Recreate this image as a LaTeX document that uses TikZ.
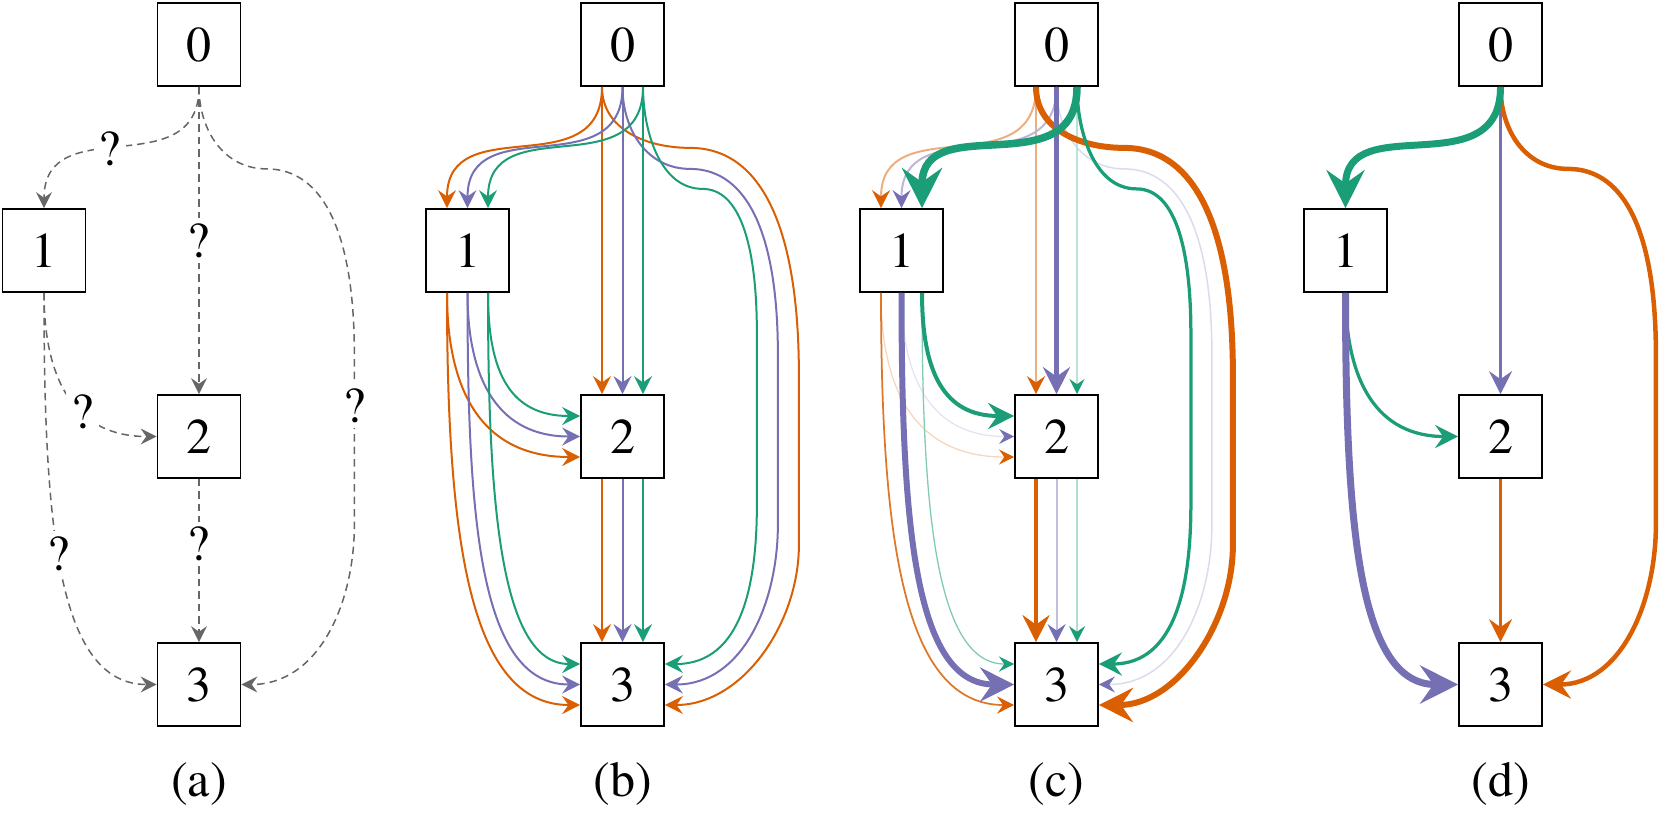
\documentclass[tikz,border=0pt]{standalone}
\usepackage{fontspec}
\setmainfont{texgyretermes}[Extension=.otf, UprightFont=*-regular]
\usetikzlibrary{arrows.meta,calc}

\definecolor{dkorange}{HTML}{D95F02}
\definecolor{dkpurple}{HTML}{7570B3}
\definecolor{dkgreen}{HTML}{1B9E77}
\definecolor{qgray}{HTML}{666666}

\begin{document}
\begin{tikzpicture}[
  x=0.2pt, y=-0.2pt,
  box/.style={draw, line width=0.35pt, minimum size=16.6pt, inner sep=0pt,
              font=\fontsize{10}{12}\selectfont},
  panel/.style={font=\fontsize{10}{12}\selectfont},
  flow/.style n args={3}{line width=#2, draw=#1!#3,
              -{Stealth[length=2pt 4, width'=0pt 1, inset'=0pt 0.35, color=#1]}},
  guess/.style={line width=0.3pt, draw=qgray, dash pattern=on 1.5pt off 1pt,
              -{Stealth[length=2pt 4, width'=0pt 1, inset'=0pt 0.35]}},
  q/.style={fill=white, inner sep=1pt, font=\fontsize{10}{12}\selectfont},
  sc/.style={to path={.. controls +(0,100) and +(0,-100) .. (\tikztotarget) \tikztonodes}},
  lt/.style 2 args={to path={.. controls +(0,#1) and +(-#2,0) .. (\tikztotarget) \tikztonodes}},
  rt/.style n args={4}{to path={.. controls +(0,43) and +(-43,0) .. ($(\tikztostart)+(#1)$)
              .. controls +(#3,0) and +(0,-#4) .. ($(\tikztotarget)+(#2,-330)$)
              -- ($(\tikztotarget)+(#2,-160)$) \tikztonodes
              .. controls +(0,78) and +(78,0) .. (\tikztotarget)}},
  rto/.style={rt={88,61}{134}{72.5}{145}},
  rtp/.style={rt={67.5,82}{113}{58}{119}},
  rtg/.style={rt={59.5,102}{92}{36}{93}},
]
\useasboundingbox (0,0) rectangle (1661,829);

% ===== (a) unknown edges =====
\node[box] (a0) at (199,44.5) {0};
\node[box] (a1) at (44,250.5) {1};
\node[box] (a2) at (199,436.5) {2};
\node[box] (a3) at (199,684.5) {3};
\node[panel] (capa) at (199,783.5) {(a)};

\draw[guess, sc] (a0.south) to node[q, pos=0.55] {?} (a1.north);
\draw[guess] (a0.south) -- node[q] {?} (a2.north);
\draw[guess, rtp] (a0.south) to node[q, pos=0.3] {?} (a3.east);
\draw[guess, lt={90}{80}] (a1.south) to node[q, pos=0.6] {?} (a2.west);
\draw[guess, lt={230}{100}] (a1.south) to node[q, pos=0.45] {?} (a3.west);
\draw[guess] (a2.south) -- node[q, pos=0.4] {?} (a3.north);

% ===== (b) all edges, all colours =====
\node[box] (b0) at (622.5,44.5) {0};
\node[box] (b1) at (467.5,250.5) {1};
\node[box] (b2) at (622.5,436.5) {2};
\node[box] (b3) at (622.5,684.5) {3};
\node[panel] (capb) at (622.5,783.5) {(b)};

\draw[flow={dkorange}{.4pt}{100}, sc] ([xshift=-4.1pt]b0.south) to ([xshift=-4.1pt]b1.north);
\draw[flow={dkorange}{.4pt}{100}] ([xshift=-4.1pt]b0.south) -- ([xshift=-4.1pt]b2.north);
\draw[flow={dkorange}{.4pt}{100}, rto] ([xshift=-4.1pt]b0.south) to ([yshift=-4.1pt]b3.east);
\draw[flow={dkorange}{.4pt}{100}, lt={110}{90}] ([xshift=-4.1pt]b1.south) to ([yshift=-4.1pt]b2.west);
\draw[flow={dkorange}{.4pt}{100}, lt={250}{110}] ([xshift=-4.1pt]b1.south) to ([yshift=-4.1pt]b3.west);
\draw[flow={dkorange}{.4pt}{100}] ([xshift=-4.1pt]b2.south) -- ([xshift=-4.1pt]b3.north);

\draw[flow={dkpurple}{.4pt}{100}, sc] (b0.south) to (b1.north);
\draw[flow={dkpurple}{.4pt}{100}] (b0.south) -- (b2.north);
\draw[flow={dkpurple}{.4pt}{100}, rtp] (b0.south) to (b3.east);
\draw[flow={dkpurple}{.4pt}{100}, lt={90}{80}] (b1.south) to (b2.west);
\draw[flow={dkpurple}{.4pt}{100}, lt={230}{100}] (b1.south) to (b3.west);
\draw[flow={dkpurple}{.4pt}{100}] (b2.south) -- (b3.north);

\draw[flow={dkgreen}{.4pt}{100}, sc] ([xshift=4.1pt]b0.south) to ([xshift=4.1pt]b1.north);
\draw[flow={dkgreen}{.4pt}{100}] ([xshift=4.1pt]b0.south) -- ([xshift=4.1pt]b2.north);
\draw[flow={dkgreen}{.4pt}{100}, rtg] ([xshift=4.1pt]b0.south) to ([yshift=4.1pt]b3.east);
\draw[flow={dkgreen}{.4pt}{100}, lt={80}{70}] ([xshift=4.1pt]b1.south) to ([yshift=4.1pt]b2.west);
\draw[flow={dkgreen}{.4pt}{100}, lt={210}{80}] ([xshift=4.1pt]b1.south) to ([yshift=4.1pt]b3.west);
\draw[flow={dkgreen}{.4pt}{100}] ([xshift=4.1pt]b2.south) -- ([xshift=4.1pt]b3.north);

% ===== (c) weighted edges =====
\node[box] (c0) at (1056.5,44.5) {0};
\node[box] (c1) at (901.5,250.5) {1};
\node[box] (c2) at (1056.5,436.5) {2};
\node[box] (c3) at (1056.5,684.5) {3};
\node[panel] (capc) at (1056.5,783.5) {(c)};

\draw[flow={dkorange}{.4pt}{50}, sc] ([xshift=-4.1pt]c0.south) to ([xshift=-4.1pt]c1.north);
\draw[flow={dkorange}{.4pt}{50}] ([xshift=-4.1pt]c0.south) -- ([xshift=-4.1pt]c2.north);
\draw[flow={dkorange}{.26pt}{25}, lt={110}{90}] ([xshift=-4.1pt]c1.south) to ([yshift=-4.1pt]c2.west);
\draw[flow={dkorange}{.35pt}{85}, lt={250}{110}] ([xshift=-4.1pt]c1.south) to ([yshift=-4.1pt]c3.west);

\draw[flow={dkpurple}{.4pt}{50}, sc] (c0.south) to (c1.north);
\draw[flow={dkpurple}{.3pt}{25}, rtp] (c0.south) to (c3.east);
\draw[flow={dkpurple}{.25pt}{20}, lt={90}{80}] (c1.south) to (c2.west);
\draw[flow={dkpurple}{.4pt}{45}] (c2.south) -- (c3.north);

\draw[flow={dkgreen}{.26pt}{30}] ([xshift=4.1pt]c0.south) -- ([xshift=4.1pt]c2.north);
\draw[flow={dkgreen}{.26pt}{55}, lt={210}{80}] ([xshift=4.1pt]c1.south) to ([yshift=4.1pt]c3.west);
\draw[flow={dkgreen}{.3pt}{35}] ([xshift=4.1pt]c2.south) -- ([xshift=4.1pt]c3.north);

\draw[flow={dkorange}{1.2pt}{100}, rto] ([xshift=-4.1pt]c0.south) to ([yshift=-4.1pt]c3.east);
\draw[flow={dkorange}{.85pt}{100}] ([xshift=-4.1pt]c2.south) -- ([xshift=-4.1pt]c3.north);
\draw[flow={dkpurple}{.85pt}{100}] (c0.south) -- (c2.north);
\draw[flow={dkpurple}{1.2pt}{100}, lt={230}{100}] (c1.south) to (c3.west);
\draw[flow={dkgreen}{.65pt}{100}, rtg] ([xshift=4.1pt]c0.south) to ([yshift=4.1pt]c3.east);
\draw[flow={dkgreen}{.8pt}{100}, lt={80}{70}] ([xshift=4.1pt]c1.south) to ([yshift=4.1pt]c2.west);
\draw[flow={dkgreen}{1.5pt}{100}, sc] ([xshift=4.1pt]c0.south) to ([xshift=4.1pt]c1.north);

% ===== (d) chosen edges =====
\node[box] (d0) at (1500.5,44.5) {0};
\node[box] (d1) at (1345.5,250.5) {1};
\node[box] (d2) at (1500.5,436.5) {2};
\node[box] (d3) at (1500.5,684.5) {3};
\node[panel] (capd) at (1500.5,783.5) {(d)};

\draw[flow={dkpurple}{.65pt}{100}] (d0.south) -- (d2.north);
\draw[flow={dkorange}{.9pt}{100}, rtp] (d0.south) to (d3.east);
\draw[flow={dkgreen}{1.4pt}{100}, sc] (d0.south) to (d1.north);
\draw[flow={dkgreen}{.65pt}{100}, lt={90}{80}] (d1.south) to (d2.west);
\draw[flow={dkpurple}{1.4pt}{100}, lt={230}{100}] (d1.south) to (d3.west);
\draw[flow={dkorange}{.65pt}{100}] (d2.south) -- (d3.north);

\end{tikzpicture}
\end{document}
